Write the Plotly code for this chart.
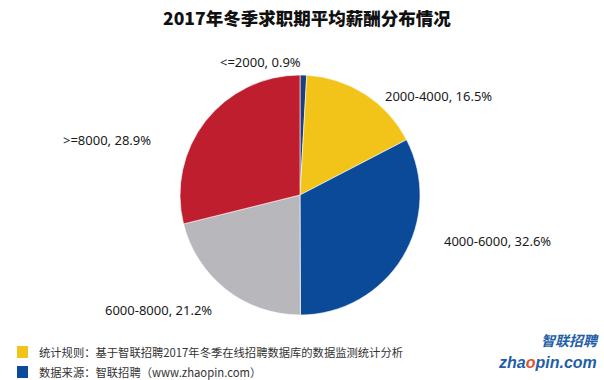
import plotly.graph_objects as go

title = "2017年冬季求职期平均薪酬分布情况"
categories = ["<=2000", "2000-4000", "4000-6000", "6000-8000", ">=8000"]
values = [0.9, 16.5, 32.6, 21.2, 28.9]
colors = ["#1F3F7A", "#F2C318", "#0B4A98", "#B8B8BC", "#BE1E2D"]
note_lines = ["统计规则：基于智联招聘2017年冬季在线招聘数据库的数据监测统计分析",
              "数据来源：智联招聘（www.zhaopin.com）"]
note_colors = ["#F2C318", "#0B4A98"]

W, H = 604, 380


def px(x):
    return x / W


def py(y):
    return 1 - y / H


cx, cy, r = 300, 195, 120

fig = go.Figure()
fig.add_trace(go.Pie(
    labels=categories, values=values, sort=False, direction="clockwise",
    rotation=0, textinfo="none", hoverinfo="label+percent",
    marker=dict(colors=colors, line=dict(color="white", width=0.6)),
    domain=dict(x=[px(cx - r), px(cx + r)], y=[py(cy + r), py(cy - r)]),
    showlegend=False,
))

# label positions (pixels) for each slice label
label_pos = [(260, 62), (438, 96), (497, 241), (158, 310), (107, 140)]
lab_font = dict(family="Noto Sans, Noto Sans CJK SC", size=13, color="#1a1a1a")
anns = []
for cat, v, (x, y) in zip(categories, values, label_pos):
    anns.append(dict(x=px(x), y=py(y), xref="paper", yref="paper",
                     text=f"{cat}, {v}%", showarrow=False, font=lab_font,
                     xanchor="center", yanchor="middle"))

anns.append(dict(x=px(307), y=py(17), xref="paper", yref="paper", text=title,
                 showarrow=False,
                 font=dict(family="Noto Sans CJK SC", size=17.5, color="#111", weight=900),
                 xanchor="center", yanchor="middle"))

shapes = []
for i, (txt, col) in enumerate(zip(note_lines, note_colors)):
    yc = 352 + i * 20
    shapes.append(dict(type="rect", xref="paper", yref="paper",
                       x0=px(17), x1=px(28), y0=py(yc + 6), y1=py(yc - 6),
                       fillcolor=col, line=dict(width=0)))
    anns.append(dict(x=px(37), y=py(yc), xref="paper", yref="paper", text=txt,
                     showarrow=False, font=dict(family="Noto Sans CJK SC", size=11.3, color="#333"),
                     xanchor="left", yanchor="middle"))

# logo
anns.append(dict(x=px(601), y=py(340), xref="paper", yref="paper", text="<b><i>智联招聘</i></b>",
                 showarrow=False, font=dict(family="Noto Sans CJK SC", size=14, color="#1F5FA8"),
                 xanchor="right", yanchor="middle"))
anns.append(dict(x=px(599), y=py(362), xref="paper", yref="paper",
                 text="<b><i>zha<span style='color:#E0502A'>o</span>pin.com</i></b>",
                 showarrow=False, font=dict(family="Liberation Sans", size=16, color="#1F5FA8"),
                 xanchor="right", yanchor="middle"))

fig.update_layout(width=W, height=H, margin=dict(l=0, r=0, t=0, b=0),
                  paper_bgcolor="white", plot_bgcolor="white",
                  annotations=anns, shapes=shapes)
fig.write_html("out.html", config={"displayModeBar": False},
               post_script="document.body.style.margin='0px';document.body.style.overflow='hidden';")
